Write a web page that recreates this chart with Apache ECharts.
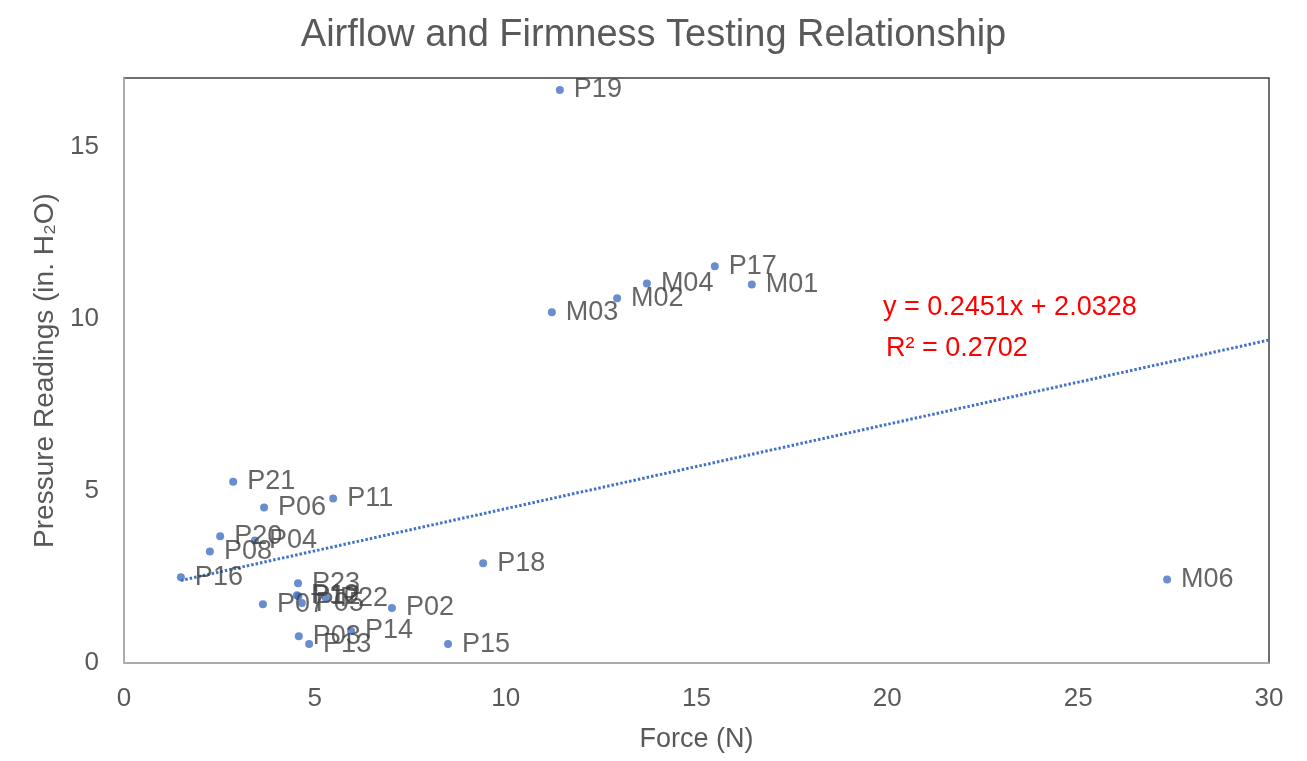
<!DOCTYPE html>
<html>
<head>
<meta charset="utf-8">
<title>Airflow and Firmness Testing Relationship</title>
<script src="https://cdn.jsdelivr.net/npm/echarts@6/dist/echarts.min.js"></script>
<style>
  html, body { margin: 0; padding: 0; background: #ffffff; }
  #chart { width: 1307px; height: 761px; }
</style>
</head>
<body>
<div id="chart"></div>
<script>
// Sample IDs with their firmness force (N) and airflow pressure (in. H2O)
const pointNames = ['P19', 'P17', 'M01', 'M04', 'M02', 'M03', 'M06', 'P18', 'P15', 'P02',
  'P21', 'P06', 'P11', 'P20', 'P04', 'P08', 'P16', 'P07', 'P23', 'P10', 'P12', 'P05',
  'P22', 'P03', 'P13', 'P14'];
const forceN = [11.42, 15.48, 16.45, 13.70, 12.92, 11.21, 27.33, 9.41, 8.49, 7.02,
  2.86, 3.67, 5.48, 2.52, 3.43, 2.25, 1.49, 3.64, 4.56, 4.53, 4.57, 4.66,
  5.29, 4.58, 4.85, 5.95];
const pressureInH2O = [16.65, 11.53, 11.00, 11.03, 10.60, 10.19, 2.43, 2.90, 0.55, 1.60,
  5.27, 4.52, 4.78, 3.68, 3.56, 3.24, 2.49, 1.71, 2.32, 1.97, 1.94, 1.74,
  1.88, 0.78, 0.55, 0.93];

// Linear trendline coefficients
const trendSlope = 0.2451;
const trendIntercept = 2.0328;
const trendRSquared = 0.2702;

// Axis ranges and tick steps
const xAxisMin = 0, xAxisMax = 30, xAxisStep = 5;
const yAxisMin = 0, yAxisMax = 17, yAxisStep = 5;

const scatterData = forceN.map((x, i) => ({ name: pointNames[i], value: [x, pressureInH2O[i]] }));
const trendStartX = Math.min(...forceN);
const trendData = [trendStartX, xAxisMax].map(x => [x, trendSlope * x + trendIntercept]);

const FONT = '"Liberation Sans", Arial, sans-serif';
const chart = echarts.init(document.getElementById('chart'));

chart.setOption({
  backgroundColor: '#ffffff',
  animation: false,
  title: {
    text: 'Airflow and Firmness Testing Relationship',
    left: 'center',
    top: 12,
    textStyle: { fontFamily: FONT, fontSize: 38, fontWeight: 'normal', color: '#595959' }
  },
  grid: {
    left: 124, right: 38, top: 78, bottom: 98,
    show: true, borderColor: '#404040', borderWidth: 1.5, backgroundColor: 'transparent'
  },
  xAxis: {
    type: 'value',
    min: xAxisMin, max: xAxisMax, interval: xAxisStep,
    name: 'Force (N)',
    nameLocation: 'middle',
    nameGap: 63,
    nameTextStyle: { fontFamily: FONT, fontSize: 27, color: '#595959' },
    axisLine: { show: true, lineStyle: { color: '#bfbfbf', width: 1.5 } },
    axisTick: { show: false },
    splitLine: { show: false },
    axisLabel: { fontFamily: FONT, fontSize: 26, color: '#595959', margin: 23 }
  },
  yAxis: {
    type: 'value',
    min: yAxisMin, max: yAxisMax, interval: yAxisStep,
    name: 'Pressure Readings (in. H₂O)',
    nameLocation: 'middle',
    nameGap: 63,
    nameTextStyle: { fontFamily: FONT, fontSize: 28, color: '#595959' },
    axisLine: { show: true, lineStyle: { color: '#bfbfbf', width: 1.5 } },
    axisTick: { show: false },
    splitLine: { show: false },
    axisLabel: { fontFamily: FONT, fontSize: 26, color: '#595959', margin: 25, showMaxLabel: false }
  },
  series: [
    {
      name: 'Trendline',
      type: 'line',
      data: trendData,
      symbol: 'none',
      silent: true,
      z: 1,
      lineStyle: { color: '#4472C4', width: 3, type: [2.5, 2] }
    },
    {
      name: 'Samples',
      type: 'scatter',
      data: scatterData,
      symbol: 'circle',
      symbolSize: 8,
      z: 3,
      itemStyle: { color: '#4472C4' },
      label: {
        show: true,
        position: 'right',
        distance: 10,
        formatter: p => p.name,
        fontFamily: FONT,
        fontSize: 27,
        color: '#404040'
      },
      labelLayout: { hideOverlap: false }
    }
  ],
  graphic: [
    {
      type: 'text',
      left: 883,
      top: 294,
      style: {
        text: 'y = ' + trendSlope.toFixed(4) + 'x + ' + trendIntercept.toFixed(4),
        font: '27px ' + FONT,
        fill: '#ff0000'
      }
    },
    {
      type: 'text',
      left: 886,
      top: 335,
      style: {
        text: 'R² = ' + trendRSquared.toFixed(4),
        font: '27px ' + FONT,
        fill: '#ff0000'
      }
    }
  ]
});
</script>
</body>
</html>
